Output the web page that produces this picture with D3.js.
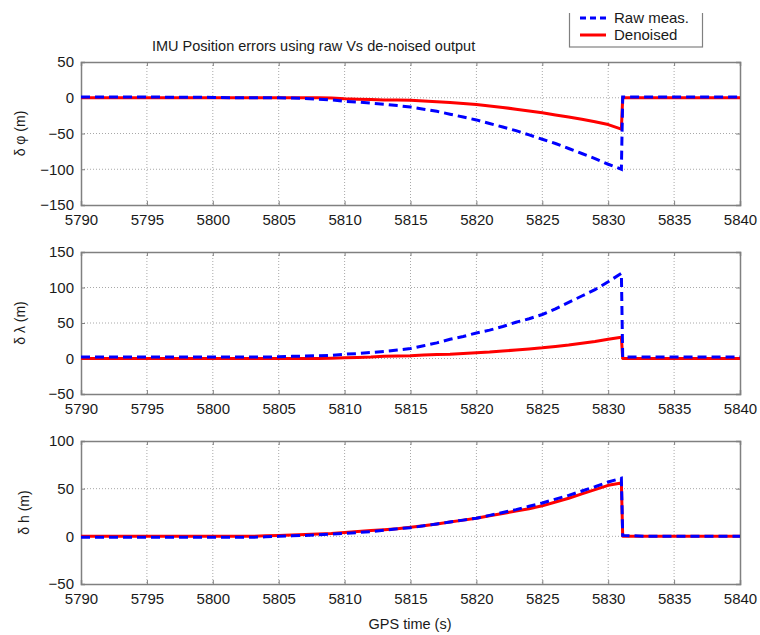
<!DOCTYPE html>
<html>
<head>
<meta charset="utf-8">
<script src="https://cdn.jsdelivr.net/npm/d3@7"></script>
<style>
  html, body { margin: 0; padding: 0; background: #fff; }
  svg { display: block; font-family: "Liberation Sans", Arial, sans-serif; }
</style>
</head>
<body>
<svg id="chart" width="760" height="635"></svg>
<script>
// GPS time samples (s); the outage ends just after 5831 s
const times = [5790,5795,5800,5802,5803,5804,5805,5806,5807,5808,5809,5810,5811,5812,5813,5814,5815,5816,5817,5818,5819,5820,5821,5822,5823,5824,5825,5826,5827,5828,5829,5830,5831,5831.1,5833,5840];

// Latitude error (m)
const phiRaw = [1,1,0.5,0,0,0,0,-0.5,-1,-2,-3,-5,-6,-7.5,-9,-11,-13,-16,-19,-23,-27,-31,-36,-41,-46,-52,-58,-64,-71,-78,-85,-93,-100,1,1,1];
const phiDen = [0,0,0,0,0,0,0,0,0,0,-0.5,-1.5,-2,-2.5,-3,-3,-3.5,-4.5,-5.5,-6.5,-8,-9.5,-11.5,-13.5,-16,-18.5,-21,-24,-27,-30,-33.5,-37.5,-44,0,0,0];

// Longitude error (m)
const lamRaw = [2,2,2,2,2,2,2.5,3,3.5,4,4.5,6,7,8.5,10,12,14,18,22,27,31,36,40,45,51,56,62,70,79,88,97,108,120,2,2,2];
const lamDen = [0,0,0,0,0,0,0,0,0,0,0.5,1,1.5,2,3,3.5,4,5,5.5,6,7,8,9,10.5,12,13.5,15,17,19,21.5,24,27,30,0,0,0];

// Height error (m)
const hRaw = [-1,-1,-1,-1,-1,-0.5,0,0.5,1,1.5,2.5,3,4,5,6.5,8,9,11,13,15,17,19,22,25,28,31.5,35,39,43,47.5,52,57,61,1,0,0];
const hDen = [0,0,0,0,0,0.5,1,1.5,2,2.5,3,4,5,6,7,8,9.5,11,13,15,17,19,21.5,24,26.5,29,32,36,40,44.5,49,53.5,56,0,0,0];

// Axis ticks
const xTicks = [5790,5795,5800,5805,5810,5815,5820,5825,5830,5835,5840];
const phiTicks = [-150,-100,-50,0,50];
const lamTicks = [-50,0,50,100,150];
const hTicks = [-50,0,50,100];

const seriesNames = ["Raw meas.", "Denoised"];
const titleText = "IMU Position errors using raw Vs de-noised output";
const xLabel = "GPS time (s)";

const svg = d3.select("#chart");
const left = 81, right = 740;
const x = d3.scaleLinear().domain([5790, 5840]).range([left, right]);

const panels = [
  { top: 62, bottom: 205, domain: [-150, 50], ticks: phiTicks, raw: phiRaw, den: phiDen, label: "δ φ (m)", labelX: 20 },
  { top: 252, bottom: 394, domain: [-50, 150], ticks: lamTicks, raw: lamRaw, den: lamDen, label: "δ λ (m)", labelX: 20 },
  { top: 441, bottom: 584, domain: [-50, 100], ticks: hTicks, raw: hRaw, den: hDen, label: "δ h (m)", labelX: 24 }
];

const frameColor = "#808080";
const gridColor = "#a8a8a8";
const textColor = "#1a1a1a";

panels.forEach((p, i) => {
  const y = d3.scaleLinear().domain(p.domain).range([p.bottom, p.top]);
  const g = svg.append("g");
  const clipId = "clip" + i;
  svg.append("clipPath").attr("id", clipId)
    .append("rect").attr("x", left).attr("y", p.top)
    .attr("width", right - left).attr("height", p.bottom - p.top);

  // dotted grid
  g.append("g").selectAll("line").data(xTicks.slice(1, -1)).join("line")
    .attr("x1", d => x(d)).attr("x2", d => x(d))
    .attr("y1", p.top).attr("y2", p.bottom)
    .attr("stroke", gridColor).attr("stroke-width", 1).attr("stroke-dasharray", "1,2");
  g.append("g").selectAll("line").data(p.ticks.slice(1, -1)).join("line")
    .attr("x1", left).attr("x2", right)
    .attr("y1", d => y(d)).attr("y2", d => y(d))
    .attr("stroke", gridColor).attr("stroke-width", 1).attr("stroke-dasharray", "1,2");

  // axes with inward ticks
  const xAxisB = d3.axisBottom(x).tickValues(xTicks).tickSize(-4).tickPadding(9).tickFormat(d3.format("d"));
  const xAxisT = d3.axisTop(x).tickValues(xTicks).tickSize(-4).tickFormat("");
  const yAxisL = d3.axisLeft(y).tickValues(p.ticks).tickSize(-4).tickPadding(7).tickFormat(d3.format("d"));
  const yAxisR = d3.axisRight(y).tickValues(p.ticks).tickSize(-4).tickFormat("");

  const axes = [
    g.append("g").attr("transform", `translate(0,${p.bottom})`).call(xAxisB),
    g.append("g").attr("transform", `translate(0,${p.top})`).call(xAxisT),
    g.append("g").attr("transform", `translate(${left},0)`).call(yAxisL),
    g.append("g").attr("transform", `translate(${right},0)`).call(yAxisR)
  ];
  axes.forEach(a => {
    a.select(".domain").attr("stroke", frameColor).attr("stroke-width", 1.5);
    a.selectAll(".tick line").attr("stroke", frameColor);
    a.selectAll("text").attr("fill", textColor).style("font-size", "15px")
      .style("font-family", "'Liberation Sans', Arial, sans-serif");
  });

  // series
  const line = d3.line().x((d, k) => x(times[k])).y(d => y(d));
  const lines = g.append("g").attr("clip-path", `url(#${clipId})`);
  lines.append("path").datum(p.den).attr("d", line)
    .attr("fill", "none").attr("stroke", "#ff0000").attr("stroke-width", 3)
    .attr("stroke-linejoin", "round");
  lines.append("path").datum(p.raw).attr("d", line)
    .attr("fill", "none").attr("stroke", "#0000ff").attr("stroke-width", 3)
    .attr("stroke-dasharray", "9,5");

  // y label
  svg.append("text")
    .attr("transform", `translate(${p.labelX},${(p.top + p.bottom) / 2}) rotate(-90)`)
    .attr("text-anchor", "middle").attr("dy", "0.35em")
    .attr("fill", textColor).style("font-size", "14px")
    .text(p.label);
});

// title
svg.append("text").attr("x", 152).attr("y", 51)
  .attr("fill", textColor).style("font-size", "14.5px").text(titleText);

// x label
svg.append("text").attr("x", 410).attr("y", 629).attr("text-anchor", "middle")
  .attr("fill", textColor).style("font-size", "14.5px").text(xLabel);

// legend, its upper edge cut by the page margin
svg.append("clipPath").attr("id", "legendClip")
  .append("rect").attr("x", 560).attr("y", 13).attr("width", 160).attr("height", 40);
const lg = svg.append("g").attr("clip-path", "url(#legendClip)");
lg.append("rect").attr("x", 569.5).attr("y", -4).attr("width", 133).attr("height", 51)
  .attr("fill", "#fff").attr("stroke", frameColor).attr("stroke-width", 1.2);
const legendRows = [
  { name: seriesNames[0], color: "#0000ff", dash: "6,4", y: 18 },
  { name: seriesNames[1], color: "#ff0000", dash: null, y: 35 }
];
legendRows.forEach(r => {
  lg.append("line").attr("x1", 580).attr("x2", 606).attr("y1", r.y).attr("y2", r.y)
    .attr("stroke", r.color).attr("stroke-width", 3)
    .attr("stroke-dasharray", r.dash);
  lg.append("text").attr("x", 614).attr("y", r.y).attr("dy", "0.35em")
    .attr("fill", textColor).style("font-size", "15px").text(r.name);
});
</script>
</body>
</html>
